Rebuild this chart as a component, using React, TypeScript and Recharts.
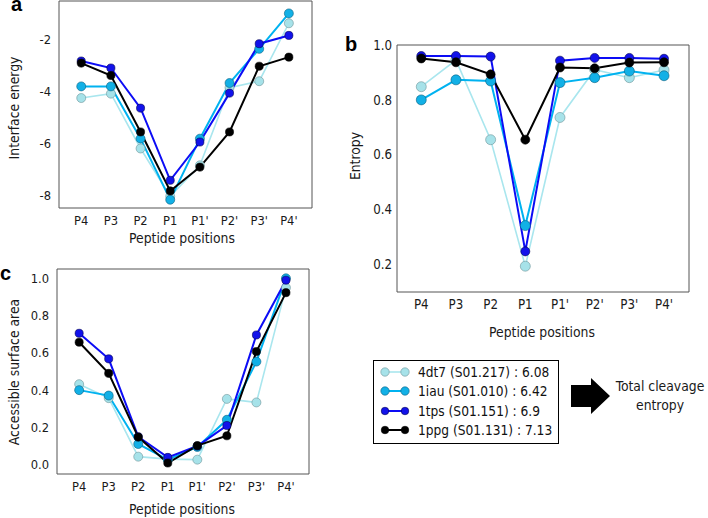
import React from "react";
import { LineChart, Line, XAxis, YAxis, ReferenceArea } from "recharts";

const POSITIONS = ["P4", "P3", "P2", "P1", "P1'", "P2'", "P3'", "P4'"];
const STRUCTURES = ["4dt7 (S01.217)", "1iau (S01.010)", "1tps (S01.151)", "1ppg (S01.131)"];
const CLEAVAGE_ENTROPY = ["6.08", "6.42", "6.9", "7.13"];

// a: interface energy
const ENERGY_4DT7 = [-4.25, -4.08, -6.2, -8.05, -6.85, -3.85, -3.6, -1.36];
const ENERGY_1IAU = [-3.8, -3.8, -5.82, -8.18, -5.82, -3.67, -2.35, -0.98];
const ENERGY_1TPS = [-2.82, -3.09, -4.64, -7.43, -5.95, -4.06, -2.15, -1.83];
const ENERGY_1PPG = [-2.9, -3.38, -5.56, -7.84, -6.92, -5.56, -3.02, -2.67];

// b: entropy
const ENTROPY_4DT7 = [0.848, 0.945, 0.655, 0.194, 0.736, 0.91, 0.881, 0.909];
const ENTROPY_1IAU = [0.8, 0.873, 0.869, 0.342, 0.863, 0.881, 0.905, 0.888];
const ENTROPY_1TPS = [0.96, 0.96, 0.958, 0.248, 0.943, 0.953, 0.953, 0.95];
const ENTROPY_1PPG = [0.951, 0.937, 0.893, 0.655, 0.918, 0.915, 0.936, 0.937];

// c: accessible surface area
const ASA_4DT7 = [0.432, 0.357, 0.043, 0.03, 0.027, 0.353, 0.334, 0.95];
const ASA_1IAU = [0.4, 0.371, 0.111, 0.027, 0.095, 0.241, 0.553, 1.0];
const ASA_1TPS = [0.705, 0.568, 0.15, 0.039, 0.1, 0.21, 0.696, 0.99];
const ASA_1PPG = [0.657, 0.49, 0.148, 0.009, 0.102, 0.155, 0.607, 0.923];

const ENERGY_TICKS = [-8, -7, -6, -5, -4, -3, -2, -1];
const ENTROPY_TICKS = [0.2, 0.3, 0.4, 0.5, 0.6, 0.7, 0.8, 0.9, 1.0];
const ASA_TICKS = [0, 0.2, 0.4, 0.6, 0.8, 1.0];
const X_TICKS = [0, 1, 2, 3, 4, 5, 6, 7];

const KEYS = ["s4dt7", "s1iau", "s1tps", "s1ppg"];
const FONT = "'DejaVu Sans Condensed', 'DejaVu Sans', sans-serif";

const STYLES = [
  { line: "#a9e6ee", width: 1.6, fill: "#a6e2e9", edge: "#6f9499", r: 1 },
  { line: "#00b2f0", width: 2, fill: "#12b0e6", edge: "#0a5f80", r: 1 },
  { line: "#0c0cf5", width: 2, fill: "#1212ea", edge: "#000050", r: 0.9 },
  { line: "#000000", width: 2, fill: "#000000", edge: "#000000", r: 0.9 },
];

function buildRows(series: number[][]) {
  return POSITIONS.map((_, i) => {
    const row: Record<string, number> = { idx: i };
    KEYS.forEach((k, s) => {
      row[k] = series[s][i];
    });
    return row;
  });
}

interface PanelProps {
  left: number;
  top: number;
  width: number;
  height: number;
  margin: { top: number; right: number; bottom: number; left: number };
  yWidth: number;
  xHeight: number;
  xDomain: [number, number];
  yDomain: [number, number];
  yTicks: number[];
  yFormat: (v: number) => string;
  fontSize: number;
  dotR: number;
  tickSize?: number;
  tickMargin?: number;
  rows: Record<string, number>[];
}

function Panel(p: PanelProps) {
  const tickStyle = { fontSize: p.fontSize, fill: "#1a1a1a", fontFamily: FONT };
  return (
    <div style={{ position: "absolute", left: p.left, top: p.top }}>
      <LineChart width={p.width} height={p.height} data={p.rows} margin={p.margin}>
        <XAxis
          dataKey="idx"
          type="number"
          domain={p.xDomain}
          ticks={X_TICKS}
          interval={0}
          tickFormatter={(i: number) => POSITIONS[i]}
          axisLine={false}
          tickLine={false}
          height={p.xHeight}
          tick={tickStyle}
          allowDataOverflow
        />
        <XAxis
          xAxisId="inB"
          dataKey="idx"
          type="number"
          domain={p.xDomain}
          ticks={X_TICKS}
          interval={0}
          mirror
          tick={false}
          axisLine={false}
          tickSize={3}
          stroke="#aaa"
          allowDataOverflow
        />
        <YAxis
          yAxisId="main"
          type="number"
          domain={p.yDomain}
          ticks={p.yTicks}
          interval={0}
          tickFormatter={p.yFormat}
          width={p.yWidth}
          axisLine={false}
          tickLine={false}
          tickSize={p.tickSize ?? 6}
          tickMargin={p.tickMargin ?? 2}
          tick={tickStyle}
          allowDataOverflow
        />
        <YAxis
          yAxisId="inL"
          type="number"
          orientation="left"
          mirror
          domain={p.yDomain}
          ticks={p.yTicks}
          interval={0}
          tick={false}
          axisLine={false}
          tickSize={4}
          stroke="#999"
          allowDataOverflow
        />
        <YAxis
          yAxisId="inR"
          type="number"
          orientation="right"
          mirror
          domain={p.yDomain}
          ticks={p.yTicks}
          interval={0}
          tick={false}
          axisLine={false}
          tickSize={4}
          stroke="#999"
          allowDataOverflow
        />
        <ReferenceArea
          yAxisId="main"
          x1={p.xDomain[0]}
          x2={p.xDomain[1]}
          y1={p.yDomain[0]}
          y2={p.yDomain[1]}
          fill="none"
          stroke="#555"
          strokeWidth={1}
          ifOverflow="visible"
        />
        {KEYS.map((k, s) => (
          <Line
            key={k}
            yAxisId="main"
            dataKey={k}
            type="linear"
            stroke={STYLES[s].line}
            strokeWidth={STYLES[s].width}
            dot={{
              r: p.dotR * STYLES[s].r,
              fill: STYLES[s].fill,
              stroke: STYLES[s].edge,
              strokeWidth: 0.6,
            }}
            isAnimationActive={false}
          />
        ))}
      </LineChart>
    </div>
  );
}

function Legend() {
  return (
    <div
      style={{
        position: "absolute",
        left: 373,
        top: 360,
        width: 186,
        height: 84,
        boxSizing: "border-box",
        border: "1.5px solid #000",
        paddingTop: 1,
        background: "#fff",
      }}
    >
      {STRUCTURES.map((name, s) => (
        <div key={name} style={{ display: "flex", alignItems: "center", height: 19.5 }}>
          <svg width={44} height={12} style={{ flex: "none" }}>
            <line x1={11} x2={31} y1={6} y2={6} stroke={STYLES[s].line} strokeWidth={STYLES[s].width} />
            <circle cx={11} cy={6} r={4.2 * STYLES[s].r} fill={STYLES[s].fill} stroke={STYLES[s].edge} strokeWidth={0.6} />
            <circle cx={31} cy={6} r={4.2 * STYLES[s].r} fill={STYLES[s].fill} stroke={STYLES[s].edge} strokeWidth={0.6} />
          </svg>
          <span style={{ fontFamily: FONT, fontSize: 13.6, color: "#111", whiteSpace: "nowrap" }}>
            {name} : {CLEAVAGE_ENTROPY[s]}
          </span>
        </div>
      ))}
    </div>
  );
}

export default function App() {
  const energyRows = buildRows([ENERGY_4DT7, ENERGY_1IAU, ENERGY_1TPS, ENERGY_1PPG]);
  const entropyRows = buildRows([ENTROPY_4DT7, ENTROPY_1IAU, ENTROPY_1TPS, ENTROPY_1PPG]);
  const asaRows = buildRows([ASA_4DT7, ASA_1IAU, ASA_1TPS, ASA_1PPG]);

  const titleStyle = { fontFamily: FONT, fontSize: 13.8, fill: "#1a1a1a" };
  const letterStyle = { fontFamily: "'Liberation Sans', Arial, sans-serif", fontSize: 20, fontWeight: 700, fill: "#000" };

  return (
    <div style={{ position: "absolute", left: 0, top: 0, width: 708, height: 518, background: "#fff", overflow: "hidden" }}>
      <Panel
        left={0}
        top={0}
        width={320}
        height={250}
        margin={{ top: 1, right: 8, bottom: 0, left: 0 }}
        yWidth={59}
        xHeight={42}
        xDomain={[-0.75, 7.78]}
        yDomain={[-8.5, -0.5]}
        yTicks={ENERGY_TICKS}
        yFormat={(v) => (v % 2 === 0 ? String(v) : "")}
        fontSize={12.8}
        dotR={4.5}
        rows={energyRows}
      />
      <Panel
        left={340}
        top={30}
        width={360}
        height={310}
        margin={{ top: 15, right: 11, bottom: 0, left: 0 }}
        yWidth={57}
        xHeight={48}
        xDomain={[-0.7, 7.72]}
        yDomain={[0.1, 1.0]}
        yTicks={ENTROPY_TICKS}
        yFormat={(v) => (Math.round(v * 10) % 2 === 0 ? v.toFixed(1) : "")}
        fontSize={13.2}
        dotR={5}
        tickSize={4}
        tickMargin={1}
        rows={entropyRows}
      />
      <Panel
        left={0}
        top={255}
        width={320}
        height={263}
        margin={{ top: 14, right: 11, bottom: 0, left: 0 }}
        yWidth={57}
        xHeight={44}
        xDomain={[-0.75, 7.78]}
        yDomain={[-0.05, 1.05]}
        yTicks={ASA_TICKS}
        yFormat={(v) => v.toFixed(1)}
        fontSize={12.8}
        dotR={4.5}
        rows={asaRows}
      />
      <Legend />
      <svg width={708} height={518} style={{ position: "absolute", left: 0, top: 0, pointerEvents: "none" }}>
        <text x={11} y={11} style={letterStyle}>a</text>
        <text x={345} y={51} style={letterStyle}>b</text>
        <text x={0} y={280} style={letterStyle}>c</text>

        <text x={14} y={108} textAnchor="middle" dominantBaseline="central" transform="rotate(-90 14 108)" style={titleStyle}>
          Interface energy
        </text>
        <text x={182} y={243} textAnchor="middle" style={titleStyle}>Peptide positions</text>

        <text x={355} y={156} textAnchor="middle" dominantBaseline="central" transform="rotate(-90 355 156)" style={titleStyle}>
          Entropy
        </text>
        <text x={542} y={337} textAnchor="middle" style={titleStyle}>Peptide positions</text>

        <text x={14} y={372} textAnchor="middle" dominantBaseline="central" transform="rotate(-90 14 372)" style={titleStyle}>
          Accessible surface area
        </text>
        <text x={182} y={514} textAnchor="middle" style={titleStyle}>Peptide positions</text>

        <polygon points="571,385 591,385 591,378 610,396 591,414 591,407 571,407" fill="#000" />
        <text x={660} y={391} textAnchor="middle" style={titleStyle}>Total cleavage</text>
        <text x={660} y={410} textAnchor="middle" style={titleStyle}>entropy</text>
      </svg>
    </div>
  );
}
